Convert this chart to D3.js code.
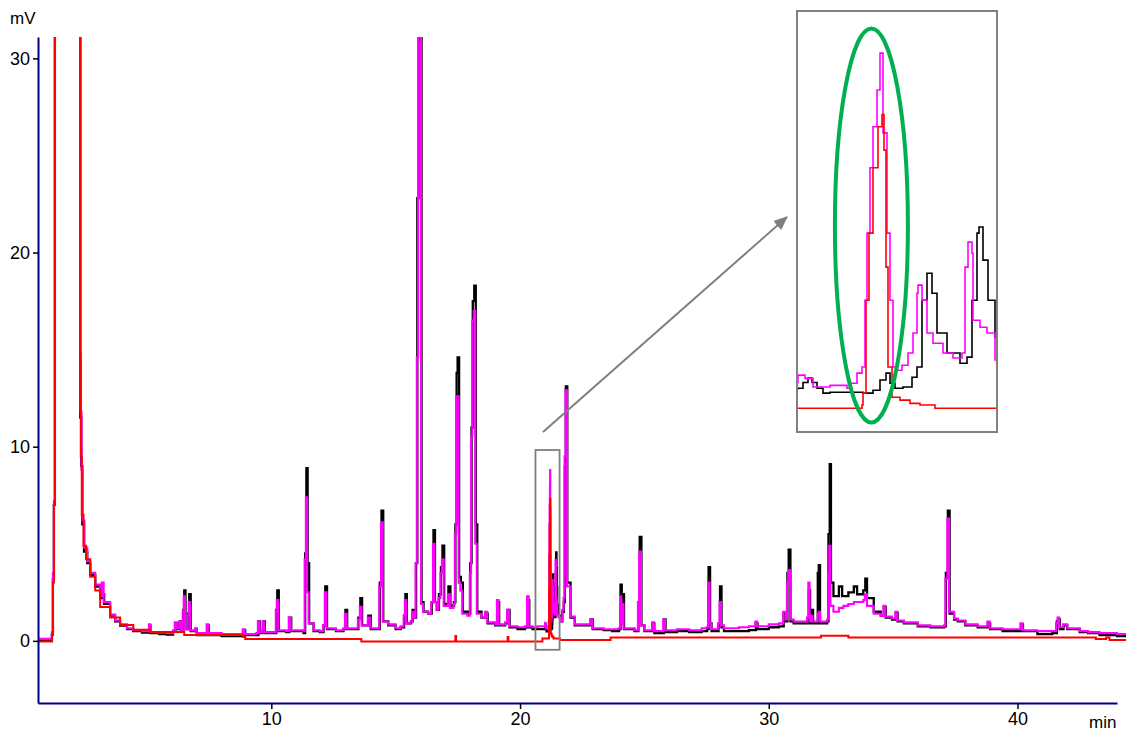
<!DOCTYPE html>
<html>
<head>
<meta charset="utf-8">
<script src="https://cdn.jsdelivr.net/npm/d3@7"></script>
<style>
  html, body { margin: 0; padding: 0; background: #fff; }
  svg { display: block; }
  text { font-family: "Liberation Sans", Arial, sans-serif; }
</style>
</head>
<body>
<svg id="chart" width="1126" height="735"></svg>
<script>
// axis ticks
const xTicks = [10, 20, 30, 40];
const yTicks = [0, 10, 20, 30];

// chromatogram traces, [time (min), signal (mV)]
const blackTrace = [
  [0.62, 0.02], [1.14, 0.02], [1.18, 0.35], [1.22, 3.2], [1.26, 7.0], [1.30, 34], [2.30, 34],
  [2.32, 11.5], [2.36, 9.0], [2.40, 6.0], [2.47, 4.6], [2.60, 4.0], [2.72, 3.4], [2.92, 2.8],
  [3.12, 2.2], [3.20, 2.4], [3.28, 1.9], [3.52, 1.3], [3.72, 1.0], [3.92, 0.78], [4.20, 0.6],
  [4.45, 0.5], [4.80, 0.42], [5.05, 0.42], [5.09, 0.8], [5.14, 0.4], [5.50, 0.35], [5.81, 0.32],
  [6.05, 0.5], [6.14, 0.9], [6.22, 0.6], [6.32, 1.0], [6.40, 0.5], [6.46, 1.6], [6.50, 2.6],
  [6.55, 0.6], [6.66, 1.4], [6.70, 2.4], [6.76, 0.5], [6.94, 0.6], [7.00, 0.3], [7.38, 0.3],
  [7.42, 0.8], [7.48, 0.3], [8.00, 0.25], [8.60, 0.25], [8.87, 0.55], [8.95, 0.3], [9.40, 0.3],
  [9.48, 1.0], [9.55, 0.4], [9.64, 0.5], [9.68, 1.0], [9.74, 0.4], [10.15, 0.4], [10.20, 1.6],
  [10.24, 2.6], [10.30, 0.5], [10.60, 0.45], [10.72, 1.2], [10.80, 0.5], [11.30, 0.4],
  [11.36, 4.5], [11.41, 8.9], [11.46, 4.0], [11.52, 0.9], [11.70, 0.5], [11.95, 0.45],
  [12.10, 0.8], [12.17, 2.8], [12.24, 0.6], [12.60, 0.5], [12.90, 0.6], [12.98, 1.6],
  [13.05, 0.6], [13.40, 0.6], [13.50, 1.2], [13.58, 2.2], [13.65, 0.8], [13.90, 1.3],
  [14.00, 0.6], [14.30, 0.6], [14.36, 3.0], [14.43, 6.7], [14.50, 1.0], [14.70, 0.8],
  [15.00, 0.6], [15.20, 0.7], [15.34, 1.3], [15.39, 2.4], [15.45, 0.9], [15.62, 1.0],
  [15.68, 1.6], [15.76, 1.2], [15.82, 4.0], [15.87, 22.8], [15.92, 34], [15.98, 34],
  [16.04, 2.0], [16.12, 1.5], [16.30, 1.4], [16.45, 2.0], [16.52, 5.7], [16.58, 2.0],
  [16.66, 1.6], [16.74, 2.4], [16.82, 3.8], [16.88, 4.9], [16.95, 1.9], [17.12, 2.8],
  [17.20, 1.8], [17.34, 2.0], [17.40, 6.0], [17.45, 13.8], [17.49, 14.6], [17.55, 3.3],
  [17.62, 3.0], [17.70, 1.5], [17.90, 1.4], [18.00, 4.0], [18.05, 11.0], [18.10, 17.5],
  [18.16, 18.3], [18.22, 6.0], [18.28, 1.5], [18.45, 1.2], [18.61, 1.4], [18.70, 0.9],
  [19.00, 0.8], [19.09, 2.0], [19.16, 0.8], [19.40, 0.9], [19.50, 1.6], [19.58, 0.7],
  [19.90, 0.6], [20.20, 0.7], [20.30, 2.1], [20.37, 0.7], [20.50, 0.6], [20.70, 0.6],
  [21.0025, 0.61], [21.015, 0.75], [21.0275, 0.86], [21.0375, 0.75], [21.05, 0.61],
  [21.065, 0.49], [21.0825, 0.51], [21.12, 0.51], [21.165, 0.49], [21.19, 0.56],
  [21.2075, 0.81], [21.2225, 0.98], [21.2325, 0.73], [21.245, 0.61], [21.265, 0.64],
  [21.2875, 0.88], [21.30, 1.13], [21.3125, 2.76], [21.325, 3.42], [21.3375, 2.93],
  [21.35, 1.96], [21.375, 1.47], [21.4075, 1.22], [21.425, 1.37], [21.4375, 2.76],
  [21.45, 4.4], [21.455, 4.55], [21.465, 3.74], [21.4775, 2.76], [21.495, 1.86],
  [21.55, 1.3], [21.62, 1.0], [21.70, 1.5], [21.76, 2.0], [21.80, 9.0], [21.84, 13.1],
  [21.90, 3.0], [22.03, 1.2], [22.20, 0.8], [22.50, 0.8], [22.84, 1.1], [22.92, 0.6],
  [23.36, 0.55], [23.70, 0.5], [23.98, 0.6], [24.04, 2.9], [24.09, 0.9], [24.12, 2.4],
  [24.18, 0.6], [24.60, 0.5], [24.76, 2.0], [24.81, 5.35], [24.88, 0.8], [25.00, 0.5],
  [25.33, 0.9], [25.40, 0.4], [25.78, 1.1], [25.85, 0.45], [26.30, 0.5], [26.80, 0.45],
  [27.30, 0.5], [27.52, 0.6], [27.58, 3.8], [27.64, 0.9], [27.70, 0.5], [27.98, 0.8],
  [28.04, 2.8], [28.10, 0.7], [28.20, 0.5], [28.80, 0.5], [29.20, 0.55], [29.48, 0.9],
  [29.55, 0.6], [30.00, 0.7], [30.40, 0.75], [30.60, 1.4], [30.70, 1.0], [30.75, 3.5],
  [30.80, 4.7], [30.87, 1.0], [31.00, 0.9], [31.40, 0.9], [31.56, 1.0], [31.61, 2.6],
  [31.66, 0.9], [31.73, 1.6], [31.78, 0.9], [31.93, 0.9], [31.97, 3.5], [32.01, 3.9],
  [32.06, 0.9], [32.35, 1.0], [32.40, 5.5], [32.45, 9.1], [32.50, 3.0], [32.60, 2.3],
  [32.82, 2.8], [32.95, 2.3], [33.20, 2.5], [33.42, 2.8], [33.55, 2.4], [33.80, 2.6],
  [33.88, 3.2], [33.95, 2.2], [34.22, 1.5], [34.50, 1.3], [34.63, 1.75], [34.70, 1.2],
  [34.95, 1.1], [35.11, 1.45], [35.18, 1.0], [35.43, 0.9], [35.99, 0.75], [36.50, 0.7],
  [37.05, 0.75], [37.12, 3.5], [37.20, 6.7], [37.27, 1.4], [37.45, 1.1], [37.60, 1.0],
  [37.90, 0.8], [38.40, 0.7], [38.81, 0.9], [38.90, 0.6], [39.40, 0.5], [40.14, 0.85],
  [40.22, 0.5], [40.80, 0.35], [41.40, 0.4], [41.58, 1.0], [41.63, 1.1], [41.70, 0.6],
  [41.85, 0.8], [42.00, 0.6], [42.50, 0.45], [42.84, 0.4], [43.30, 0.3], [43.64, 0.3],
  [44.00, 0.25], [44.37, 0.2]
];

const magentaTrace = [
  [0.62, 0.1], [1.14, 0.1], [1.18, 0.46], [1.22, 3.5], [1.26, 7.2], [1.30, 34], [2.30, 34],
  [2.33, 11.8], [2.37, 8.8], [2.41, 6.2], [2.48, 4.8], [2.60, 4.1], [2.72, 3.5], [2.92, 2.9],
  [3.12, 2.3], [3.18, 3.0], [3.26, 2.0], [3.52, 1.35], [3.72, 1.05], [3.92, 0.85], [4.20, 0.65],
  [4.45, 0.55], [4.80, 0.5], [5.05, 0.5], [5.08, 0.85], [5.13, 0.45], [5.50, 0.42], [5.81, 0.4],
  [6.05, 0.55], [6.12, 0.95], [6.20, 0.65], [6.30, 1.0], [6.38, 0.55], [6.44, 1.5], [6.48, 2.3],
  [6.53, 0.6], [6.64, 1.3], [6.68, 2.0], [6.74, 0.55], [6.94, 0.65], [7.00, 0.4], [7.38, 0.4],
  [7.40, 0.85], [7.46, 0.4], [8.00, 0.35], [8.60, 0.35], [8.85, 0.6], [8.93, 0.35], [9.40, 0.4],
  [9.46, 1.0], [9.53, 0.45], [9.62, 0.55], [9.66, 1.0], [9.72, 0.45], [10.15, 0.45],
  [10.18, 1.5], [10.22, 2.1], [10.28, 0.55], [10.60, 0.5], [10.70, 1.2], [10.78, 0.55],
  [11.30, 0.5], [11.34, 4.2], [11.39, 7.4], [11.44, 2.5], [11.50, 0.9], [11.70, 0.55],
  [11.95, 0.5], [12.08, 0.8], [12.15, 2.5], [12.22, 0.65], [12.60, 0.55], [12.90, 0.65],
  [12.96, 1.4], [13.03, 0.65], [13.40, 0.65], [13.48, 1.1], [13.56, 1.75], [13.63, 0.8],
  [13.88, 1.2], [13.98, 0.65], [14.30, 0.65], [14.34, 2.8], [14.41, 6.1], [14.48, 1.0],
  [14.70, 0.85], [15.00, 0.65], [15.20, 0.75], [15.32, 1.3], [15.37, 2.1], [15.43, 0.9],
  [15.60, 1.0], [15.66, 1.5], [15.74, 1.2], [15.80, 4.0], [15.85, 14.6], [15.90, 34],
  [15.96, 34], [16.02, 1.9], [16.10, 1.5], [16.30, 1.4], [16.43, 2.0], [16.50, 5.0],
  [16.56, 2.0], [16.64, 1.6], [16.72, 2.2], [16.80, 3.5], [16.86, 4.2], [16.93, 1.8],
  [17.10, 2.4], [17.18, 1.7], [17.32, 1.9], [17.38, 5.5], [17.43, 12.6], [17.47, 12.6],
  [17.53, 3.0], [17.60, 2.6], [17.68, 1.4], [17.88, 1.3], [17.98, 3.5], [18.03, 10.5],
  [18.08, 16.5], [18.14, 17.0], [18.20, 5.0], [18.26, 1.4], [18.45, 1.2], [18.59, 1.5],
  [18.68, 0.95], [19.00, 0.85], [19.07, 2.1], [19.14, 0.85], [19.40, 0.95], [19.48, 1.6],
  [19.56, 0.75], [19.90, 0.7], [20.20, 0.75], [20.28, 2.3], [20.35, 0.75], [20.50, 0.7],
  [20.70, 0.75],
  [21.0025, 0.93], [21.02, 0.85], [21.04, 0.64], [21.0825, 0.68], [21.125, 0.61],
  [21.1325, 0.73], [21.15, 0.98], [21.1625, 1.13], [21.17, 2.76], [21.175, 4.4],
  [21.1825, 6.0], [21.19, 7.0], [21.20, 7.9], [21.2075, 8.8], [21.2125, 8.8], [21.215, 6.85],
  [21.225, 4.4], [21.2325, 2.76], [21.24, 1.13], [21.25, 1.05], [21.2625, 1.17],
  [21.2775, 1.47], [21.29, 1.96], [21.30, 2.93], [21.3025, 3.13], [21.3125, 2.76],
  [21.325, 1.96], [21.34, 1.71], [21.365, 1.47], [21.39, 1.35], [21.4125, 1.47],
  [21.42, 3.57], [21.4275, 4.18], [21.4375, 3.91], [21.44, 2.27], [21.4575, 2.1],
  [21.475, 1.96], [21.495, 1.3],
  [21.55, 1.2], [21.62, 1.0], [21.70, 1.6], [21.75, 2.2], [21.79, 9.5], [21.83, 12.9],
  [21.89, 2.8], [22.03, 1.25], [22.20, 0.85], [22.50, 0.85], [22.82, 1.1], [22.90, 0.65],
  [23.36, 0.6], [23.70, 0.6], [23.96, 0.65], [24.02, 2.3], [24.07, 0.9], [24.10, 1.9],
  [24.16, 0.65], [24.60, 0.55], [24.74, 2.0], [24.79, 4.6], [24.86, 0.8], [25.00, 0.55],
  [25.31, 0.95], [25.38, 0.5], [25.76, 1.1], [25.83, 0.55], [26.30, 0.6], [26.80, 0.55],
  [27.30, 0.65], [27.50, 0.7], [27.56, 3.0], [27.62, 0.9], [27.70, 0.6], [27.96, 0.9],
  [28.02, 2.0], [28.08, 0.8], [28.20, 0.65], [28.80, 0.7], [29.20, 0.75], [29.46, 1.0],
  [29.53, 0.75], [30.00, 0.85], [30.40, 0.9], [30.58, 1.5], [30.68, 1.1], [30.73, 3.0],
  [30.78, 3.65], [30.85, 1.1], [31.00, 1.0], [31.40, 1.0], [31.54, 1.2], [31.59, 3.0],
  [31.64, 1.0], [31.71, 1.3], [31.76, 1.0], [31.93, 1.0], [31.97, 1.4], [32.01, 1.5],
  [32.06, 1.0], [32.35, 1.1], [32.40, 3.5], [32.43, 4.9], [32.48, 1.8], [32.60, 1.5],
  [32.82, 1.7], [33.00, 1.8], [33.20, 1.9], [33.42, 2.0], [33.60, 2.0], [33.80, 2.1],
  [33.86, 2.4], [33.95, 1.8], [34.22, 1.4], [34.50, 1.3], [34.61, 1.8], [34.68, 1.25],
  [34.95, 1.15], [35.09, 1.5], [35.16, 1.05], [35.43, 0.95], [35.99, 0.8], [36.50, 0.75],
  [37.05, 0.8], [37.10, 3.2], [37.18, 6.3], [37.25, 1.5], [37.45, 1.15], [37.60, 1.05],
  [37.90, 0.85], [38.40, 0.75], [38.79, 1.0], [38.88, 0.65], [39.40, 0.6], [40.12, 0.9],
  [40.20, 0.55], [40.80, 0.5], [41.40, 0.5], [41.55, 0.9], [41.61, 1.2], [41.68, 0.7],
  [41.83, 0.85], [42.00, 0.65], [42.50, 0.5], [42.84, 0.45], [43.30, 0.4], [43.64, 0.4],
  [44.00, 0.35], [44.37, 0.35]
];

const redTrace = [
  [0.62, -0.03], [1.14, -0.03], [1.18, 0.3], [1.22, 3.0], [1.26, 7.0], [1.30, 34], [2.30, 34],
  [2.31, 14.8], [2.34, 9.5], [2.38, 6.5], [2.45, 4.9], [2.55, 4.2], [2.72, 3.3], [2.92, 2.6],
  [3.12, 1.75], [3.52, 1.2], [3.92, 0.82], [4.45, 0.57], [5.13, 0.46], [6.50, 0.3],
  [8.87, 0.2], [8.95, 0.1], [13.60, 0.1], [13.62, -0.03], [17.40, 0.25], [17.43, -0.03],
  [19.50, 0.2], [19.53, -0.03], [20.90, 0.12],
  [21.1625, 0.2], [21.165, 0.49], [21.1725, 2.76], [21.18, 4.4], [21.19, 6.0],
  [21.2025, 7.0], [21.2125, 7.3], [21.2175, 6.43], [21.2225, 3.57], [21.2275, 1.13],
  [21.2375, 0.39], [21.2575, 0.32], [21.2825, 0.24], [21.3075, 0.2], [21.345, 0.12],
  [21.60, 0.05], [23.64, 0.17], [32.10, 0.26], [33.20, 0.17], [43.15, 0.09], [43.56, 0.17],
  [43.70, 0.05], [44.37, 0.05]
];

// the region that is blown up in the inset: [t0, t1, v0, v1]
const zoomBox = [20.62, 21.59, -0.46, 9.83];
const insetRange = [21.0, 21.5];

const svg = d3.select('#chart');

// main scales
const x = d3.scaleLinear().domain([0.62, 44.0]).range([38, 1117]);
const y = d3.scaleLinear().domain([-3.2, 31.1]).range([703, 37]);

const traces = [
  { data: blackTrace, color: '#000000', width: 2.3 },
  { data: magentaTrace, color: '#ff00ff', width: 2.1 },
  { data: redTrace, color: '#ff0000', width: 2 }
];

const defs = svg.append('defs');
defs.append('clipPath').attr('id', 'plotClip')
  .append('rect').attr('x', 38).attr('y', 37).attr('width', 1090).attr('height', 666);

// traces in the main plot
const line = d3.line()
  .x(d => x(d[0]))
  .y(d => y(d[1]))
  .curve(d3.curveStepAfter);

const plot = svg.append('g').attr('clip-path', 'url(#plotClip)');
traces.forEach(tr => {
  plot.append('path')
    .datum(tr.data)
    .attr('d', line)
    .attr('fill', 'none')
    .attr('stroke', tr.color)
    .attr('stroke-width', tr.width);
});

// axes
const yAxis = d3.axisLeft(y).tickValues(yTicks).tickSize(5).tickSizeOuter(0).tickPadding(3);
const xAxis = d3.axisBottom(x).tickValues(xTicks).tickSize(6).tickSizeOuter(0).tickPadding(3);

const gy = svg.append('g').attr('transform', 'translate(38,0)').call(yAxis);
const gx = svg.append('g').attr('transform', 'translate(0,703)').call(xAxis);

[gx, gy].forEach(g => {
  g.select('.domain').attr('stroke', '#000080').attr('stroke-width', 2);
  g.selectAll('.tick line').attr('stroke', '#000').attr('stroke-width', 1.5);
  g.selectAll('.tick text')
    .attr('fill', '#000')
    .style('font-size', '18px')
    .style('font-family', '"Liberation Sans", Arial, sans-serif');
});

svg.append('text').attr('x', 10).attr('y', 24).text('mV')
  .style('font-size', '17px').attr('fill', '#000');
svg.append('text').attr('x', 1089).attr('y', 728).text('min')
  .style('font-size', '17px').attr('fill', '#000');

// box around the zoomed region
svg.append('rect')
  .attr('x', x(zoomBox[0]))
  .attr('y', y(zoomBox[3]))
  .attr('width', x(zoomBox[1]) - x(zoomBox[0]))
  .attr('height', y(zoomBox[2]) - y(zoomBox[3]))
  .attr('fill', 'none')
  .attr('stroke', '#7f7f7f')
  .attr('stroke-width', 1.8);

// arrow to the inset
defs.append('marker')
  .attr('id', 'arrowHead')
  .attr('markerUnits', 'userSpaceOnUse')
  .attr('viewBox', '0 0 14 12')
  .attr('refX', 13).attr('refY', 6)
  .attr('markerWidth', 14).attr('markerHeight', 12)
  .attr('orient', 'auto')
  .append('path').attr('d', 'M0,0 L14,6 L0,12 Z').attr('fill', '#7f7f7f');

svg.append('line')
  .attr('x1', 543).attr('y1', 432)
  .attr('x2', 787).attr('y2', 217)
  .attr('stroke', '#7f7f7f')
  .attr('stroke-width', 2)
  .attr('marker-end', 'url(#arrowHead)');

// inset
const inset = { left: 797, top: 11, width: 200, height: 421 };
const xi = d3.scaleLinear().domain(insetRange).range([inset.left, inset.left + inset.width]);
const yi = d3.scaleLinear().domain([zoomBox[2], zoomBox[3]]).range([inset.top + inset.height, inset.top]);

defs.append('clipPath').attr('id', 'insetClip')
  .append('rect').attr('x', inset.left).attr('y', inset.top)
  .attr('width', inset.width).attr('height', inset.height);

svg.append('rect')
  .attr('x', inset.left).attr('y', inset.top)
  .attr('width', inset.width).attr('height', inset.height)
  .attr('fill', '#fff');

const insetLine = d3.line()
  .x(d => xi(d[0]))
  .y(d => yi(d[1]))
  .curve(d3.curveStepAfter);

const insetG = svg.append('g').attr('clip-path', 'url(#insetClip)');
traces.forEach(tr => {
  insetG.append('path')
    .datum(tr.data.filter(d => d[0] >= insetRange[0] - 0.4 && d[0] <= insetRange[1] + 0.1))
    .attr('d', insetLine)
    .attr('fill', 'none')
    .attr('stroke', tr.color)
    .attr('stroke-width', 1.6);
});

svg.append('rect')
  .attr('x', inset.left).attr('y', inset.top)
  .attr('width', inset.width).attr('height', inset.height)
  .attr('fill', 'none')
  .attr('stroke', '#808080')
  .attr('stroke-width', 2);

// green ellipse around the peak of interest
svg.append('ellipse')
  .attr('cx', xi(21.186)).attr('cy', 225.5)
  .attr('rx', 36.5).attr('ry', 197)
  .attr('fill', 'none')
  .attr('stroke', '#00b050')
  .attr('stroke-width', 4);
</script>
</body>
</html>
